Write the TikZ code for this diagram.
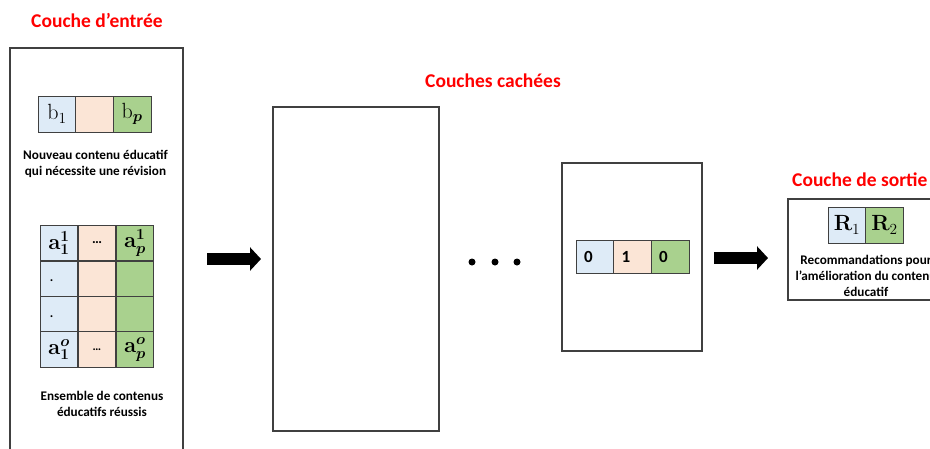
\RequirePackage{fix-cm}
\documentclass[tikz,border=0pt]{standalone}
\usepackage{bm}
\usepackage[no-math]{fontspec}
\setmainfont{Carlito}
\usetikzlibrary{arrows.meta}
\definecolor{cblue}{HTML}{DEEBF7}
\definecolor{corange}{HTML}{FBE5D6}
\definecolor{cgreen}{HTML}{A9D18E}
\definecolor{boxgray}{HTML}{404040}
\definecolor{titlered}{HTML}{FF0000}
\tikzset{
  bigbox/.style={draw=boxgray, line width=1.4pt, fill=white, inner sep=0pt},
  cell/.style={draw=boxgray, line width=0.9pt, inner sep=0pt, minimum width=37.7pt, minimum height=#1},
  cell/.default=36pt,
  title/.style={text=titlered, font=\fontsize{19.5}{22}\selectfont\bfseries, inner sep=0pt},
  caption/.style={font=\fontsize{13.2}{16}\selectfont\bfseries, align=center, inner sep=0pt},
  mathtxt/.style={font=\fontsize{22}{24}\selectfont},
  digit/.style={font=\fontsize{17}{20}\selectfont\bfseries},
  bigarrow/.style={line width=12pt, -{Triangle[length=11pt,width=23pt]}},
  dot/.style={circle, fill=black, inner sep=0pt, minimum size=7pt}
}
\begin{document}
\begin{tikzpicture}[x=1pt,y=-1pt]
\path[use as bounding box, clip] (0,0) rectangle (930,448);

% titles
\node[title] (t1) at (97,20) {Couche d’entrée};
\node[title] (t2) at (493,81) {Couches cachées};
\node[title, anchor=west] (t3) at (792,180) {Couche de sortie};

% boxes
\node[bigbox, minimum width=173pt, minimum height=412pt] (inbox) at (96.5,254) {};
\node[bigbox, minimum width=166pt, minimum height=324pt] (hid1) at (356,269) {};
\node[bigbox, minimum width=140pt, minimum height=188pt] (hid2) at (632,257) {};
\node[bigbox, minimum width=157pt, minimum height=101pt] (outbox) at (866.5,249.5) {};

% input b row
\node[cell, fill=cblue, mathtxt] (b1) at (56.9,114) {$\mathrm{b}_1$};
\node[cell, fill=corange] (b2) at (94.5,114) {};
\node[cell, fill=cgreen, mathtxt] (b3) at (132.2,114) {$\mathrm{b}_{\bm p}$};
\node[caption] (cap1) at (95.5,164) {Nouveau contenu éducatif\\qui nécessite une révision};

% matrix
\node[cell=35.5pt, fill=cblue, mathtxt] (m11) at (59,243) {$\mathbf{a}_{\mathbf{1}}^{\mathbf{1}}$};
\node[cell=35.5pt, fill=corange, font=\fontsize{14}{16}\selectfont\bfseries] (m12) at (97,243) {…};
\node[cell=35.5pt, fill=cgreen, mathtxt] (m13) at (135,243) {$\mathbf{a}_{\bm p}^{\mathbf{1}}$};
\node[cell=35.5pt, fill=cblue] (m21) at (59,279) {};
\node[cell=35.5pt, fill=corange] (m22) at (97,279) {};
\node[cell=35.5pt, fill=cgreen] (m23) at (135,279) {};
\node[cell=35.5pt, fill=cblue] (m31) at (59,314.5) {};
\node[cell=35.5pt, fill=corange] (m32) at (97,314.5) {};
\node[cell=35.5pt, fill=cgreen] (m33) at (135,314.5) {};
\node[cell=35.5pt, fill=cblue, mathtxt] (m41) at (59,349.5) {$\mathbf{a}_{\mathbf{1}}^{\bm o}$};
\node[cell=35.5pt, fill=corange, font=\fontsize{12}{14}\selectfont\bfseries] (m42) at (97,349.5) {…};
\node[cell=35.5pt, fill=cgreen, mathtxt] (m43) at (135,349.5) {$\mathbf{a}_{\bm p}^{\bm o}$};
\node[font=\fontsize{13}{14}\selectfont\bfseries, inner sep=0pt] (d1) at (51.5,281) {.};
\node[font=\fontsize{13}{14}\selectfont\bfseries, inner sep=0pt] (d2) at (51.5,317) {.};
\node[caption] (cap2) at (102,403.5) {Ensemble de contenus\\éducatifs réussis};

% hidden layer dots
\node[dot] (p1) at (472,262) {};
\node[dot] (p2) at (495,262) {};
\node[dot] (p3) at (517,262) {};

% hidden 0 1 0 row
\node[cell=33pt, fill=cblue] (h1) at (594.8,256.5) {};
\node[cell=33pt, fill=corange] (h2) at (632.5,256.5) {};
\node[cell=33pt, fill=cgreen] (h3) at (670.2,256.5) {};
\node[digit, anchor=west, inner sep=0pt] (h1t) at (584,257) {0};
\node[digit, anchor=west, inner sep=0pt] (h2t) at (621.5,257) {1};
\node[digit, anchor=west, inner sep=0pt] (h3t) at (659,257) {0};

% output
\node[cell, fill=cblue, font=\fontsize{22}{24}\selectfont] (r1) at (847,225) {$\mathbf{R}_1$};
\node[cell, fill=cgreen, font=\fontsize{22}{24}\selectfont] (r2) at (884.5,225) {$\mathbf{R}_2$};
\node[caption] (cap3) at (866,275.5) {Recommandations pour\\l’amélioration du contenu\\éducatif};

% arrows
\coordinate (a1s) at (207,259);
\coordinate (a1e) at (261,259);
\coordinate (a2s) at (714,258);
\coordinate (a2e) at (768,258);
\draw[bigarrow] (a1s) -- (a1e);
\draw[bigarrow] (a2s) -- (a2e);
\end{tikzpicture}
\end{document}
